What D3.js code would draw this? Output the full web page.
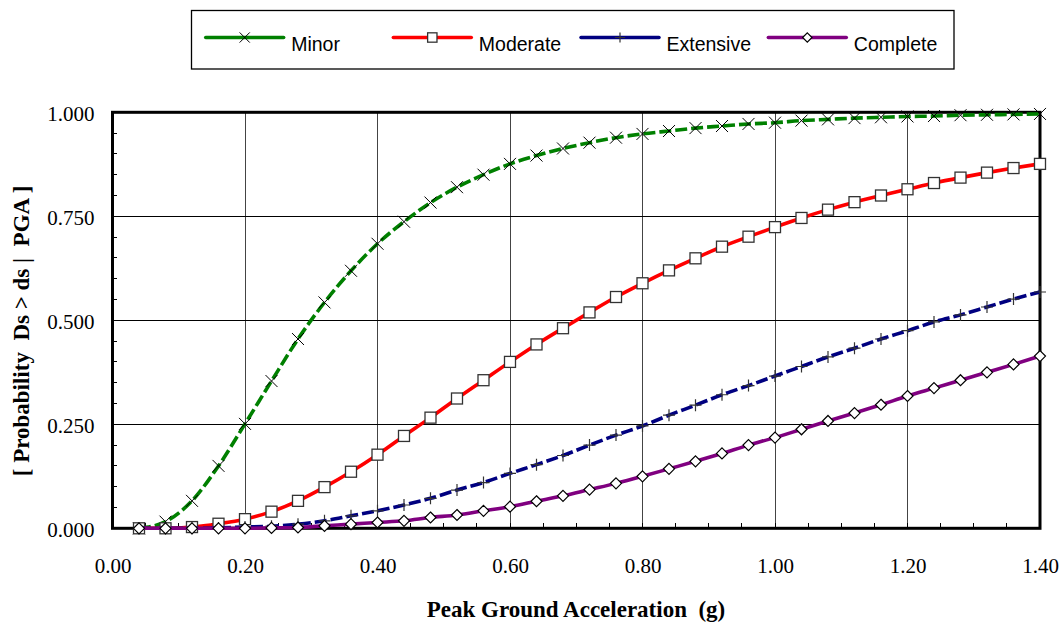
<!DOCTYPE html>
<html>
<head>
<meta charset="utf-8">
<script src="https://cdn.jsdelivr.net/npm/d3@7/dist/d3.min.js"></script>
<style>
  html, body { margin: 0; padding: 0; background: #fff; }
  svg { display: block; }
</style>
</head>
<body>
<svg id="chart" width="1063" height="625"></svg>
<script>
// ---------------- DATA ----------------
const pga = [0.04,0.08,0.12,0.16,0.20,0.24,0.28,0.32,0.36,0.40,0.44,0.48,0.52,0.56,0.60,0.64,0.68,0.72,0.76,0.80,0.84,0.88,0.92,0.96,1.00,1.04,1.08,1.12,1.16,1.20,1.24,1.28,1.32,1.36,1.40];
const minor = [0.000,0.016,0.066,0.150,0.251,0.354,0.455,0.543,0.619,0.684,0.737,0.783,0.820,0.850,0.876,0.896,0.913,0.927,0.939,0.948,0.955,0.962,0.967,0.972,0.975,0.980,0.983,0.986,0.988,0.990,0.991,0.993,0.994,0.995,0.996];
const moderate = [0.000,0.000,0.003,0.011,0.022,0.040,0.066,0.099,0.136,0.177,0.222,0.266,0.312,0.356,0.400,0.442,0.481,0.519,0.556,0.589,0.620,0.649,0.677,0.701,0.724,0.746,0.766,0.784,0.800,0.815,0.830,0.843,0.855,0.866,0.876];
const extensive = [0.000,0.000,0.000,0.001,0.003,0.005,0.010,0.018,0.030,0.042,0.056,0.072,0.092,0.110,0.132,0.153,0.175,0.200,0.224,0.246,0.272,0.296,0.321,0.343,0.366,0.389,0.412,0.433,0.455,0.475,0.496,0.513,0.532,0.551,0.568];
const complete = [0.000,0.000,0.000,0.000,0.000,0.001,0.002,0.006,0.010,0.014,0.018,0.026,0.032,0.042,0.052,0.065,0.078,0.093,0.108,0.125,0.143,0.161,0.180,0.200,0.218,0.238,0.258,0.277,0.297,0.318,0.337,0.356,0.375,0.394,0.414];
const seriesNames = ["Minor","Moderate","Extensive","Complete"];
const xTickValues = [0.00,0.20,0.40,0.60,0.80,1.00,1.20,1.40];
const yTickValues = [0.000,0.250,0.500,0.750,1.000];
const xTitle = "Peak Ground Acceleration  (g)";
const yTitle = "[ Probability  Ds > ds |  PGA ]";

// ---------------- STYLE ----------------
const styles = {
  "Minor":     {color:"#008000", dash:"12,4", marker:"x"},
  "Moderate":  {color:"#ff0000", dash:null,   marker:"square"},
  "Extensive": {color:"#000080", dash:"12,4", marker:"plus"},
  "Complete":  {color:"#800080", dash:null,   marker:"diamond"}
};
const valuesBy = {"Minor":minor,"Moderate":moderate,"Extensive":extensive,"Complete":complete};

const svg = d3.select("#chart");
const L = 112.5, R = 1040, T = 112.3, B = 528.3;
const x = d3.scaleLinear().domain([0,1.4]).range([L,R]);
const y = d3.scaleLinear().domain([0,1]).range([B,T]);

// gridlines
const grid = svg.append("g");
grid.selectAll("line.v").data(xTickValues.slice(1,-1)).join("line")
  .attr("x1",d=>x(d)).attr("x2",d=>x(d)).attr("y1",T).attr("y2",B)
  .attr("stroke","#444").attr("stroke-width",1).attr("shape-rendering","crispEdges");
grid.selectAll("line.h").data(yTickValues.slice(1,-1)).join("line")
  .attr("x1",L).attr("x2",R).attr("y1",d=>y(d)).attr("y2",d=>y(d))
  .attr("stroke","#000").attr("stroke-width",1).attr("shape-rendering","crispEdges");

// minor ticks (inside)
const minorX = d3.range(1,28).map(i=>i*0.05);
const minorY = d3.range(1,20).map(i=>i*0.05);
svg.append("g").selectAll("line").data(minorX).join("line")
  .attr("x1",d=>x(d)).attr("x2",d=>x(d)).attr("y1",B).attr("y2",B-5)
  .attr("stroke","#000").attr("stroke-width",1).attr("shape-rendering","crispEdges");
svg.append("g").selectAll("line").data(minorY).join("line")
  .attr("x1",L).attr("x2",L+4).attr("y1",d=>y(d)).attr("y2",d=>y(d))
  .attr("stroke","#000").attr("stroke-width",1).attr("shape-rendering","crispEdges");

// frame
svg.append("rect").attr("x",L).attr("y",T).attr("width",R-L).attr("height",B-T)
  .attr("fill","none").attr("stroke","#000").attr("stroke-width",3);

// axes labels via d3 axes
const xAxis = d3.axisBottom(x).tickValues(xTickValues).tickFormat(d3.format(".2f")).tickSize(0).tickPadding(0);
const gx = svg.append("g").attr("transform",`translate(0,${B})`).call(xAxis);
gx.select(".domain").remove();
gx.selectAll("text").attr("font-family","'Liberation Serif', 'Times New Roman', serif")
  .attr("font-size","21px").attr("fill","#000").attr("dy",null).attr("y",45);

const yAxis = d3.axisLeft(y).tickValues(yTickValues).tickFormat(d3.format(".3f")).tickSize(0).tickPadding(0);
const gy = svg.append("g").attr("transform",`translate(${L},0)`).call(yAxis);
gy.select(".domain").remove();
gy.selectAll("text").attr("font-family","'Liberation Serif', 'Times New Roman', serif")
  .attr("font-size","21px").attr("fill","#000").attr("x",-18).attr("dy","0.4em");

// titles
svg.append("text").attr("x",576).attr("y",617)
  .attr("text-anchor","middle").attr("font-family","'Liberation Serif', 'Times New Roman', serif")
  .attr("font-weight","bold").attr("font-size","23px").style("white-space","pre").text(xTitle);
svg.append("text").attr("transform","translate(29,331) rotate(-90)")
  .attr("text-anchor","middle").attr("font-family","'Liberation Serif', 'Times New Roman', serif")
  .attr("font-weight","bold").attr("font-size","23px").style("white-space","pre").text(yTitle);

// marker drawing
function drawMarker(g, type, cx, cy, scale) {
  const s = scale || 1;
  if (type === "x") {
    const h = 6*s;
    g.append("path").attr("d",`M${cx-h},${cy-h}L${cx+h},${cy+h}M${cx-h},${cy+h}L${cx+h},${cy-h}`)
      .attr("stroke","#000").attr("stroke-width",1).attr("fill","none");
  } else if (type === "square") {
    const h = 5.5*s;
    g.append("rect").attr("x",cx-h).attr("y",cy-h).attr("width",2*h).attr("height",2*h)
      .attr("fill","#fff").attr("stroke","#333").attr("stroke-width",1.3);
  } else if (type === "plus") {
    const h = 6*s;
    g.append("path").attr("d",`M${cx-h},${cy}L${cx+h},${cy}M${cx},${cy-h}L${cx},${cy+h}`)
      .attr("stroke","#333").attr("stroke-width",1.2).attr("fill","none");
  } else if (type === "diamond") {
    const h = 5.5*s;
    g.append("path").attr("d",`M${cx},${cy-h}L${cx+h},${cy}L${cx},${cy+h}L${cx-h},${cy}Z`)
      .attr("fill","#fff").attr("stroke","#000").attr("stroke-width",1.2);
  }
}

// series
const line = d3.line().x(d=>x(d[0])).y(d=>y(d[1])).curve(d3.curveMonotoneX);
seriesNames.forEach(name => {
  const st = styles[name];
  const data = pga.map((p,i)=>[p, valuesBy[name][i]]);
  const g = svg.append("g");
  g.append("path").datum(data).attr("d",line).attr("fill","none")
    .attr("stroke",st.color).attr("stroke-width",3.6)
    .attr("stroke-dasharray",st.dash);
  data.forEach(d => drawMarker(g, st.marker, x(d[0]), y(d[1]), 1));
});

// legend
const lg = svg.append("g");
lg.append("rect").attr("x",191.5).attr("y",10.5).attr("width",762.5).attr("height",58.5)
  .attr("fill","#fff").attr("stroke","#000").attr("stroke-width",1.3);
const legStart = [205.7, 393.3, 581, 768.3];
seriesNames.forEach((name,i) => {
  const st = styles[name];
  const x0 = legStart[i], x1 = x0 + 78, ly = 37.5;
  lg.append("line").attr("x1",x0).attr("x2",x1).attr("y1",ly).attr("y2",ly)
    .attr("stroke",st.color).attr("stroke-width",3.5).attr("stroke-linecap","round");
  drawMarker(lg, st.marker, (x0+x1)/2, ly, 0.85);
  lg.append("text").attr("x",x0+85.5).attr("y",51)
    .attr("font-family","'Liberation Sans', Arial, sans-serif").attr("font-size","19.5px")
    .attr("fill","#000").text(name);
});
</script>
</body>
</html>
